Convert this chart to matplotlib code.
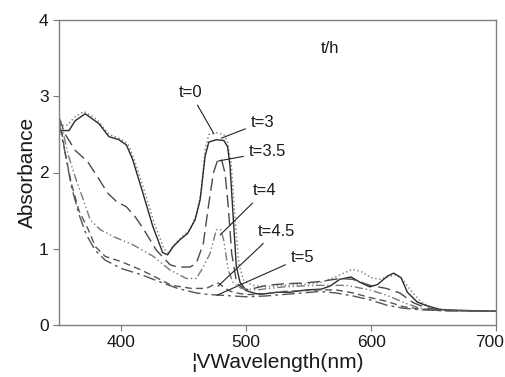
import matplotlib
matplotlib.use("Agg")
import matplotlib.pyplot as plt
import matplotlib.transforms as mtransforms

plt.rcParams['font.family'] = ['Liberation Sans', 'DejaVu Sans']

# ---- data ----
wl_t0 = [350, 353, 357, 362, 370, 380, 390, 398, 405, 410, 418, 426, 434, 438, 442, 448, 455, 460, 464, 467,
         470, 476, 482, 485, 488, 491, 494, 498, 505, 515, 530, 545, 560, 570, 578, 585, 592, 600, 607, 613,
         620, 625, 632, 640, 650, 665, 700]
ab_t0 = [2.72, 2.62, 2.62, 2.72, 2.80, 2.70, 2.50, 2.45, 2.38, 2.18, 1.78, 1.35, 1.00, 0.94, 1.05, 1.15, 1.25, 1.45, 1.75, 2.30,
         2.50, 2.52, 2.50, 2.40, 2.10, 1.40, 0.80, 0.58, 0.52, 0.50, 0.52, 0.53, 0.56, 0.62, 0.68, 0.73, 0.70, 0.62, 0.60, 0.63,
         0.66, 0.60, 0.45, 0.30, 0.22, 0.19, 0.18]

wl_t3 = [350, 358, 363, 371, 382, 390, 398, 404, 409, 417, 425, 433, 437, 441, 447, 453, 459, 463, 467, 470,
         476, 482, 485, 487, 489.5, 492, 495, 500, 508, 515, 525, 535, 548, 560, 567, 575, 584, 591, 599, 605,
         613, 618, 624, 629, 637, 645, 656, 677, 700]
ab_t3 = [2.55, 2.55, 2.68, 2.77, 2.64, 2.47, 2.43, 2.36, 2.17, 1.74, 1.30, 0.95, 0.92, 1.02, 1.12, 1.20, 1.38, 1.64, 2.21, 2.40,
         2.43, 2.42, 2.34, 2.08, 1.42, 0.77, 0.56, 0.45, 0.41, 0.41, 0.43, 0.43, 0.46, 0.47, 0.51, 0.60, 0.63, 0.56, 0.50, 0.53,
         0.64, 0.68, 0.62, 0.43, 0.30, 0.25, 0.20, 0.19, 0.18]

wl_t35 = [350, 355, 363, 373, 381, 389, 396, 404, 411, 418, 428, 439, 445, 455, 460, 465.6, 469.6, 473.6, 477, 480,
          483, 485.6, 488.3, 492.3, 499, 506, 516, 530, 545, 559, 575, 585, 599, 612, 623, 634, 645, 660, 700]
ab_t35 = [2.72, 2.50, 2.29, 2.14, 1.94, 1.73, 1.62, 1.55, 1.42, 1.25, 0.98, 0.79, 0.76, 0.76, 0.81, 1.07, 1.55, 1.99, 2.16, 2.18,
          1.99, 1.55, 0.94, 0.55, 0.46, 0.48, 0.52, 0.54, 0.55, 0.57, 0.61, 0.60, 0.52, 0.48, 0.42, 0.29, 0.22, 0.19, 0.18]

wl_t4 = [350, 353, 357, 363, 369.5, 375, 383, 393.5, 409.5, 425.5, 439, 452, 460, 465.6, 471, 476, 479.5, 482,
         485.6, 489.6, 496, 508, 530, 556, 580, 599, 612.5, 628.5, 639, 655, 700]
ab_t4 = [2.72, 2.55, 2.25, 1.94, 1.64, 1.38, 1.25, 1.16, 1.05, 0.90, 0.72, 0.61, 0.61, 0.76, 0.94, 1.25, 1.25, 1.11,
         0.72, 0.55, 0.48, 0.46, 0.50, 0.52, 0.52, 0.46, 0.39, 0.28, 0.22, 0.19, 0.18]

wl_t45 = [350, 352, 355, 360, 366, 373.5, 379, 387, 400, 416, 427, 440, 456, 468, 473, 477.6, 481.6, 486, 492, 500,
          510, 530, 545, 559, 572, 585.6, 599, 612.5, 625.8, 639, 655, 700]
ab_t45 = [2.70, 2.55, 2.25, 1.85, 1.50, 1.25, 1.03, 0.90, 0.83, 0.72, 0.63, 0.52, 0.48, 0.48, 0.52, 0.55, 0.50, 0.45, 0.42, 0.40,
          0.40, 0.44, 0.45, 0.46, 0.46, 0.42, 0.36, 0.31, 0.24, 0.21, 0.19, 0.18]

wl_t5 = [350, 352, 355, 360, 366, 372, 379, 387, 400, 416, 430, 445, 460, 470, 480, 490, 500, 515, 530, 545,
         559, 572, 585.6, 599, 612.5, 625.8, 639, 655, 700]
ab_t5 = [2.65, 2.50, 2.25, 1.81, 1.45, 1.18, 0.98, 0.85, 0.74, 0.66, 0.57, 0.48, 0.42, 0.40, 0.39, 0.38, 0.37, 0.38, 0.40, 0.42,
         0.44, 0.42, 0.38, 0.33, 0.26, 0.22, 0.20, 0.19, 0.18]

labels = ["t=0", "t=3", "t=3.5", "t=4", "t=4.5", "t=5"]
label_text_xy = [(455, 3.05), (513, 2.66), (517, 2.27), (515, 1.76), (524, 1.23), (545, 0.89)]
label_point_xy = [(474, 2.51), (480, 2.45), (477.4, 2.15), (479, 1.18), (477.4, 0.51), (476.5, 0.39)]

x_ticks = [400, 500, 600, 700]
y_ticks = [0, 1, 2, 3, 4]

# ---- figure ----
fig = plt.figure(figsize=(5.06, 3.77), dpi=100)
ax = fig.add_axes([59 / 506, 52 / 377, 437 / 506, 305 / 377])

ax.plot(wl_t0, ab_t0, color='#8a8a8a', lw=1.1, linestyle=(0, (1, 1.6)))
ax.plot(wl_t3, ab_t3, color='#2b2b2b', lw=1.0, linestyle='-')
ax.plot(wl_t35, ab_t35, color='#4a4a4a', lw=1.0, linestyle=(0, (9, 4)))
ax.plot(wl_t4, ab_t4, color='#7a7a7a', lw=1.0, linestyle=(0, (6, 2, 1, 2, 1, 2)))
ax.plot(wl_t45, ab_t45, color='#555555', lw=1.0, linestyle=(0, (5, 3)))
ax.plot(wl_t5, ab_t5, color='#555555', lw=1.0, linestyle=(0, (9, 3, 2, 3)))

for lab, txy, pxy in zip(labels, label_text_xy, label_point_xy):
    ax.annotate(lab, xy=pxy, xytext=txy, fontsize=12, color='#1a1a1a',
                ha='center', va='center',
                arrowprops=dict(arrowstyle='-', color='#222222', lw=0.8,
                                shrinkA=2, shrinkB=0))

ax.text(567, 3.63, "t/h", fontsize=12, color='#1a1a1a', ha='center', va='center')

ax.set_xlim(350, 700)
ax.set_ylim(0, 4)
ax.set_xticks(x_ticks)
ax.set_yticks(y_ticks)
ax.tick_params(direction='out', length=4, width=0.8, color='#777777',
               labelsize=12.5, labelcolor='#1a1a1a', top=False, right=False)
for s in ax.spines.values():
    s.set_color('#808080')
    s.set_linewidth(1.0)

# nudge the last x tick label slightly left so it stays inside the canvas
last_lab = ax.get_xticklabels()[-1]
last_lab.set_transform(last_lab.get_transform() +
                       mtransforms.ScaledTranslation(-6 / 100, 0, fig.dpi_scale_trans))

ax.set_xlabel("¦VWavelength(nm)", fontsize=15, color='#1a1a1a', labelpad=2)
ax.set_ylabel("Absorbance", fontsize=15, color='#1a1a1a', labelpad=1)

fig.savefig("out.png", dpi=100)
